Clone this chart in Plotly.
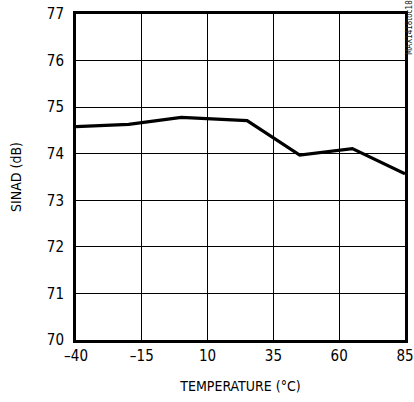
import plotly.graph_objects as go

temperature = [-40, -20, 0, 25, 45, 65, 85]
sinad = [74.58, 74.63, 74.78, 74.71, 73.97, 74.11, 73.57]
x_ticks = [-40, -15, 10, 35, 60, 85]
y_ticks = [70, 71, 72, 73, 74, 75, 76, 77]

font_family = "DejaVu Sans Condensed, Liberation Sans Narrow, Arial Narrow, Liberation Sans, sans-serif"

fig = go.Figure()
fig.add_trace(go.Scatter(x=temperature, y=sinad, mode="lines",
                         line=dict(color="black", width=3.2), cliponaxis=False,
                         showlegend=False))

fig.update_layout(
    width=414, height=402,
    margin=dict(l=76, r=9, t=14, b=62, autoexpand=False),
    paper_bgcolor="white", plot_bgcolor="white",
    font=dict(family=font_family, size=14, color="black"),
    xaxis=dict(range=[-40, 85], tickvals=x_ticks, ticktext=[str(v).replace("-", "\u2013") for v in x_ticks],
               showgrid=True, gridcolor="black", gridwidth=1,
               showline=True, linecolor="black", linewidth=3, mirror=True,
               ticks="", zeroline=False, tickfont=dict(size=15), automargin=False,
               ticklabeloverflow="allow",
               title=dict(text="TEMPERATURE (°C)", font=dict(size=14), standoff=18)),
    yaxis=dict(range=[70, 77], tickvals=y_ticks,
               showgrid=True, gridcolor="black", gridwidth=1,
               showline=True, linecolor="black", linewidth=3, mirror=True,
               ticks="", zeroline=False, tickfont=dict(size=15), automargin=False,
               ticklabelstandoff=6, ticklabeloverflow="allow",
               title=dict(text="SINAD (dB)", font=dict(size=14), standoff=22)),
    annotations=[dict(text="MAX1418toc18", xref="paper", yref="paper",
                      x=1.0, y=1.0, xshift=4, yshift=-14, textangle=-90,
                      showarrow=False, font=dict(size=8, family=font_family, color="#222"),
                      xanchor="center", yanchor="middle")],
)

fig.write_html("out.html", config={"displayModeBar": False},
               post_script="document.body.style.margin='0';document.body.style.overflow='hidden';")
